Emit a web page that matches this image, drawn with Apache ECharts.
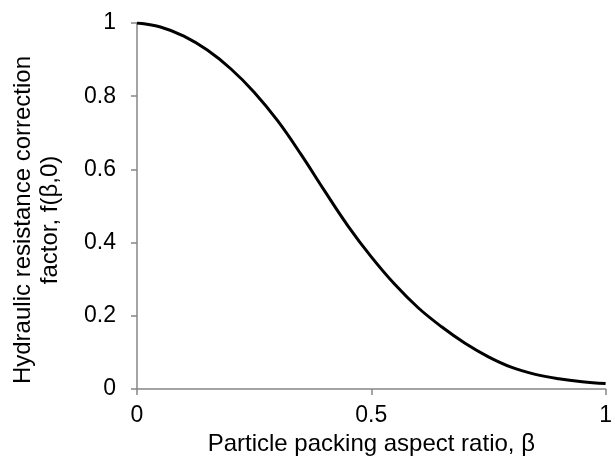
<!DOCTYPE html>
<html><head><meta charset="utf-8">
<script src="https://cdn.jsdelivr.net/npm/echarts@6/dist/echarts.min.js"></script>
<style>html,body{margin:0;padding:0;background:#fff}#c{width:615px;height:462px}</style>
</head><body><div id="c"></div>
<script>
var beta = [0, 0.05, 0.10, 0.15, 0.20, 0.25, 0.30, 0.35, 0.40, 0.45, 0.50, 0.55, 0.60, 0.65, 0.70, 0.75, 0.80, 0.85, 0.90, 0.95, 1.00];
var fval = [1.000, 0.989, 0.964, 0.926, 0.875, 0.811, 0.733, 0.641, 0.542, 0.446, 0.361, 0.286, 0.222, 0.170, 0.125, 0.088, 0.059, 0.040, 0.028, 0.020, 0.015];
var xTicks = [0, 0.5, 1];
var yTicks = [0, 0.2, 0.4, 0.6, 0.8, 1];
var xTitle = 'Particle packing aspect ratio, β';
var yTitle = 'Hydraulic resistance correction\nfactor, f(β,0)';

var chart = echarts.init(document.getElementById('c'), null, {renderer: 'canvas'});
var axisGray = '#868686';
var font = 'Liberation Sans, Arial, sans-serif';
chart.setOption({
  animation: false,
  grid: {left: 137, right: 7, top: 23, bottom: 73},
  xAxis: {
    type: 'value', min: 0, max: 1, interval: 0.5,
    name: xTitle, nameLocation: 'middle', nameGap: 40,
    nameTextStyle: {fontFamily: font, fontSize: 24, color: '#000'},
    axisLine: {show: true, onZero: false, lineStyle: {color: axisGray, width: 1.5}},
    axisTick: {show: true, length: 6, lineStyle: {color: axisGray, width: 1.5}},
    axisLabel: {fontFamily: font, fontSize: 23, color: '#000', margin: 15,
      formatter: function (v) { return xTicks.indexOf(v) >= 0 ? String(v) : ''; }},
    splitLine: {show: false}
  },
  yAxis: {
    type: 'value', min: 0, max: 1, interval: 0.2,
    name: yTitle, nameLocation: 'middle', nameGap: 73,
    nameTextStyle: {fontFamily: font, fontSize: 24, color: '#000', lineHeight: 27, align: 'center', padding: [0, 28, 0, 0]},
    axisLine: {show: true, onZero: false, lineStyle: {color: axisGray, width: 1.5}},
    axisTick: {show: true, length: 6, lineStyle: {color: axisGray, width: 1.5}},
    axisLabel: {fontFamily: font, fontSize: 23, color: '#000', margin: 21,
      formatter: function (v) { var r = Math.round(v * 10) / 10; return yTicks.indexOf(r) >= 0 ? String(r) : ''; }},
    splitLine: {show: false}
  },
  series: [{
    type: 'line', smooth: 0.4, symbol: 'none',
    data: beta.map(function (b, i) { return [b, fval[i]]; }),
    lineStyle: {color: '#000', width: 3}
  }]
});
</script></body></html>
